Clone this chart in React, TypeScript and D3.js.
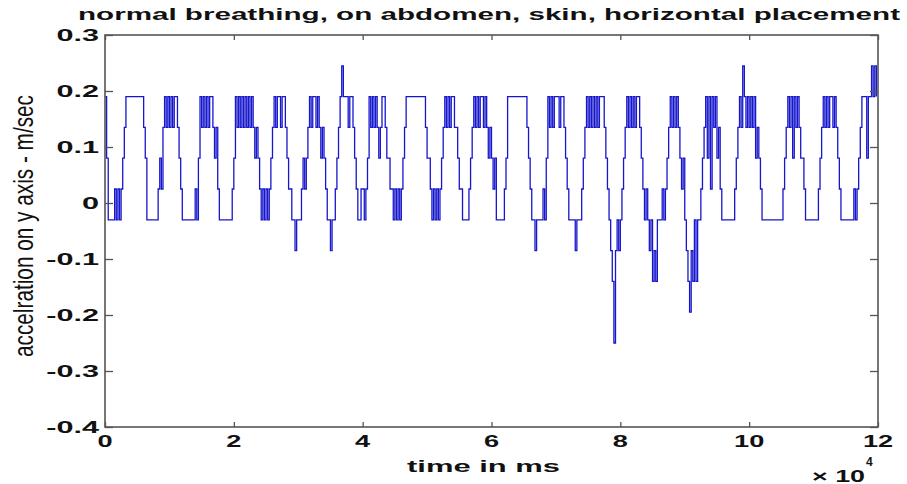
import React, { useEffect, useRef } from "react";
import * as d3 from "d3";

const W = 907;
const H = 484;

// sampled every 250 ms, values are indexes into the quantised levels below
const sampleMs = 250;
const levels = [-0.25, -0.195, -0.14, -0.085, -0.03, 0.025, 0.08, 0.135, 0.19, 0.245];

// 0 - 20 s
const seg0 = [
  8, 6, 4, 4, 4, 4, 5, 4, 5, 4,
  5, 6, 7, 8, 8, 8, 8, 8, 8, 8,
  8, 8, 8, 8, 7, 6, 4, 4, 4, 4,
  4, 4, 4, 5, 6, 5, 7, 8, 7, 8,
  7, 8, 7, 8, 8, 7, 6, 5, 4, 4,
  4, 4, 4, 4, 4, 4, 5, 4, 6, 8,
  7, 8, 7, 8, 7, 8, 8, 7, 6, 7,
  5, 4, 4, 4, 4, 4, 4, 4, 4, 5,
];
// 20 - 40 s
const seg1 = [
  6, 8, 7, 8, 7, 8, 7, 8, 7, 8,
  7, 8, 7, 6, 7, 6, 5, 4, 5, 4,
  5, 4, 5, 6, 7, 8, 7, 8, 8, 7,
  8, 8, 7, 6, 5, 5, 4, 4, 3, 4,
  4, 4, 5, 6, 5, 6, 7, 8, 7, 8,
  8, 7, 8, 7, 6, 7, 6, 5, 4, 4,
  3, 4, 4, 5, 6, 7, 8, 9, 8, 8,
  8, 7, 8, 8, 7, 6, 5, 4, 4, 5,
];
// 40 - 60 s
const seg2 = [
  5, 4, 5, 6, 8, 7, 8, 7, 8, 7,
  6, 7, 8, 8, 7, 6, 6, 5, 5, 4,
  5, 4, 5, 4, 5, 6, 7, 8, 8, 8,
  8, 8, 8, 8, 8, 8, 8, 8, 8, 7,
  6, 6, 5, 4, 5, 4, 5, 4, 5, 6,
  7, 8, 7, 8, 7, 8, 8, 7, 7, 6,
  5, 5, 4, 4, 4, 4, 5, 6, 7, 8,
  7, 8, 7, 8, 8, 7, 8, 7, 6, 7,
];
// 60 - 80 s
const seg3 = [
  6, 5, 6, 4, 4, 4, 4, 4, 5, 6,
  8, 8, 8, 8, 8, 8, 8, 8, 8, 8,
  8, 8, 7, 6, 5, 4, 4, 3, 4, 4,
  4, 4, 5, 4, 6, 8, 7, 8, 7, 8,
  8, 8, 7, 8, 8, 7, 6, 5, 4, 4,
  4, 4, 3, 4, 4, 4, 5, 6, 7, 8,
  7, 8, 7, 8, 7, 8, 7, 8, 8, 8,
  7, 6, 5, 4, 3, 2, 0, 3, 4, 3,
];
// 80 - 100 s
const seg4 = [
  4, 5, 6, 7, 8, 7, 8, 7, 8, 7,
  8, 8, 7, 6, 5, 4, 5, 4, 3, 4,
  2, 3, 2, 4, 4, 4, 5, 4, 5, 6,
  7, 8, 7, 8, 7, 8, 7, 6, 5, 6,
  4, 3, 2, 1, 3, 2, 4, 2, 4, 4,
  5, 6, 7, 8, 6, 8, 5, 8, 7, 8,
  6, 7, 5, 4, 4, 4, 4, 4, 4, 4,
  4, 5, 6, 7, 8, 7, 9, 8, 7, 8,
];
// 100 - 120 s
const seg5 = [
  7, 8, 7, 8, 6, 7, 6, 5, 4, 4,
  4, 4, 4, 4, 4, 4, 4, 4, 4, 4,
  4, 5, 6, 7, 8, 7, 8, 6, 8, 7,
  8, 7, 6, 6, 5, 4, 4, 4, 4, 4,
  4, 4, 4, 5, 6, 7, 8, 7, 8, 7,
  8, 8, 7, 8, 7, 6, 5, 4, 4, 4,
  4, 4, 4, 4, 4, 5, 4, 5, 6, 7,
  8, 8, 8, 6, 8, 8, 9, 8, 9, 8,
];

const xTicks = [0, 20000, 40000, 60000, 80000, 100000, 120000];
const xTickLabels = ["0", "2", "4", "6", "8", "10", "12"];
const yTicks = [-0.4, -0.3, -0.2, -0.1, 0, 0.1, 0.2, 0.3];
const yTickLabels = ["-0.4", "-0.3", "-0.2", "-0.1", "0", "0.1", "0.2", "0.3"];

const titleText = "normal breathing, on abdomen, skin, horizontal placement";
const xLabelText = "time in ms";
const yLabelText = "accelration on y axis - m/sec";

const font = "Liberation Sans, Arial, Helvetica, sans-serif";
const axisColor = "#555";
const lineColor = "#1616cc";

const x = d3.scaleLinear().domain([0, 120000]).range([105, 878]);
const y = d3.scaleLinear().domain([-0.4, 0.3]).range([427, 35]);

const App = () => {
  const axesRef = useRef(null);

  const samples = [...seg0, ...seg1, ...seg2, ...seg3, ...seg4, ...seg5].map((k, i) => ({
    t: i * sampleMs,
    v: levels[k],
  }));

  // quantised sensor -> level held until the next sample
  const line = d3
    .line<{ t: number; v: number }>()
    .x((d) => x(d.t))
    .y((d) => y(d.v))
    .curve(d3.curveStepAfter);

  useEffect(() => {
    const g = d3.select(axesRef.current);
    g.selectAll("*").remove();

    const [x0, x1] = x.range();
    const [y0, y1] = y.range();

    g.append("g")
      .attr("transform", `translate(0,${y0})`)
      .call(d3.axisBottom(x).tickValues(xTicks).tickSize(-5).tickSizeOuter(0).tickFormat(() => ""));
    g.append("g")
      .attr("transform", `translate(0,${y1})`)
      .call(d3.axisTop(x).tickValues(xTicks).tickSize(-5).tickSizeOuter(0).tickFormat(() => ""));
    g.append("g")
      .attr("transform", `translate(${x0},0)`)
      .call(d3.axisLeft(y).tickValues(yTicks).tickSize(-8).tickSizeOuter(0).tickFormat(() => ""));
    g.append("g")
      .attr("transform", `translate(${x1},0)`)
      .call(d3.axisRight(y).tickValues(yTicks).tickSize(-8).tickSizeOuter(0).tickFormat(() => ""));

    g.selectAll(".domain").remove();
    g.selectAll(".tick text").remove();
    g.selectAll(".tick line").attr("stroke", axisColor).attr("stroke-width", 1.3);

    g.append("rect")
      .attr("x", x0)
      .attr("y", y1)
      .attr("width", x1 - x0)
      .attr("height", y0 - y1)
      .attr("fill", "none")
      .attr("stroke", axisColor)
      .attr("stroke-width", 1.6);
  }, []);

  return (
    <svg
      width={W}
      height={H}
      style={{ position: "absolute", left: 0, top: 0, background: "#fff" }}
      fontFamily={font}
    >
      <rect x={0} y={0} width={W} height={H} fill="#fff" />

      <path d={line(samples) || ""} fill="none" stroke={lineColor} strokeWidth={1.3} />

      <g ref={axesRef} />

      {yTicks.map((v, i) => (
        <text
          key={"yl" + i}
          transform={`translate(99,${y(v) + 6}) scale(1.8,1)`}
          textAnchor="end"
          fontSize={17}
          fontWeight="bold"
          fill="#111"
        >
          {yTickLabels[i]}
        </text>
      ))}

      {xTicks.map((v, i) => (
        <text
          key={"xl" + i}
          transform={`translate(${x(v)},447) scale(1.7,1)`}
          textAnchor="middle"
          fontSize={16}
          fontWeight="bold"
          fill="#111"
        >
          {xTickLabels[i]}
        </text>
      ))}

      <text x={78} y={20} fontSize={17} fontWeight="bold" fill="#111" textLength={822} lengthAdjust="spacingAndGlyphs">
        {titleText}
      </text>

      <text x={407} y={472} fontSize={17} fontWeight="bold" fill="#111" textLength={153} lengthAdjust="spacingAndGlyphs">
        {xLabelText}
      </text>

      <text x={812} y={482} fontSize={16} fontWeight="bold" fill="#111" textLength={53} lengthAdjust="spacingAndGlyphs">
        × 10
      </text>
      <text x={866} y={466} fontSize={12} fontWeight="bold" fill="#111">
        4
      </text>

      <text
        transform="translate(33,357) rotate(-90)"
        fontSize={28}
        fill="#111"
        textLength={262}
        lengthAdjust="spacingAndGlyphs"
      >
        {yLabelText}
      </text>
    </svg>
  );
};

export default App;
